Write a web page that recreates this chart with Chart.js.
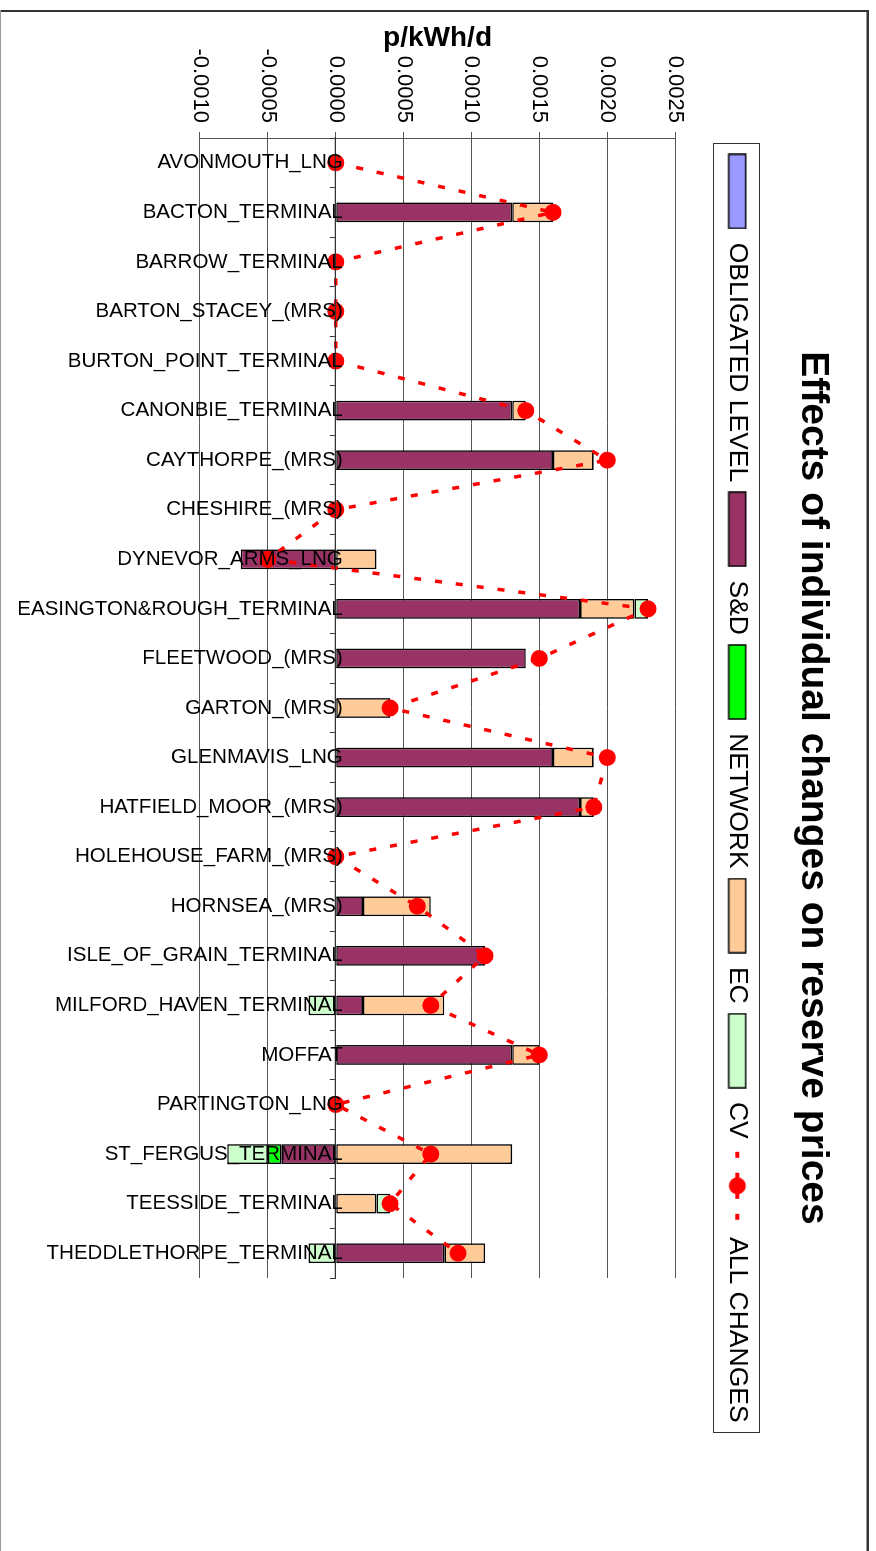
<!DOCTYPE html>
<html lang="en">
<head>
  <meta charset="UTF-8">
  <title>Effects of individual changes on reserve prices</title>
  <script src="https://cdn.jsdelivr.net/npm/chart.js"></script>
  <style>
    html, body { margin: 0; padding: 0; overflow: hidden; background: #fff; }
    /* the chart is drawn landscape and turned a quarter clockwise */
    #giro {
      position: absolute; left: 0; top: 0;
      width: 1566px; height: 876px;
      transform-origin: 0 0;
      transform: translateX(876px) rotate(90deg);
    }
  </style>
</head>
<body>

  <div id="giro">
    <canvas id="grafico" width="1566" height="876"></canvas>
  </div>

  <script>
    // Datos
    const categorias = [
      'AVONMOUTH_LNG', 'BACTON_TERMINAL', 'BARROW_TERMINAL', 'BARTON_STACEY_(MRS)',
      'BURTON_POINT_TERMINAL', 'CANONBIE_TERMINAL', 'CAYTHORPE_(MRS)', 'CHESHIRE_(MRS)',
      'DYNEVOR_ARMS_LNG', 'EASINGTON&ROUGH_TERMINAL', 'FLEETWOOD_(MRS)', 'GARTON_(MRS)',
      'GLENMAVIS_LNG', 'HATFIELD_MOOR_(MRS)', 'HOLEHOUSE_FARM_(MRS)', 'HORNSEA_(MRS)',
      'ISLE_OF_GRAIN_TERMINAL', 'MILFORD_HAVEN_TERMINAL', 'MOFFAT', 'PARTINGTON_LNG',
      'ST_FERGUS_TERMINAL', 'TEESSIDE_TERMINAL', 'THEDDLETHORPE_TERMINAL'
    ];

    const obligated = [0, 0, 0, 0, 0, 0, 0, 0, 0, 0, 0, 0, 0, 0, 0, 0, 0, 0, 0, 0, 0, 0, 0];
    const sd        = [0, 0.0013, 0, 0, 0, 0.0013, 0.0016, 0, -0.0007, 0.0018, 0.0014, 0, 0.0016, 0.0018, 0, 0.0002, 0.0011, 0.0002, 0.0013, 0, -0.0004, 0, 0.0008];
    const network   = [0, 0, 0, 0, 0, 0, 0, 0, 0, 0, 0, 0, 0, 0, 0, 0, 0, 0, 0, 0, -0.0001, 0, 0];
    const ec        = [0, 0.0003, 0, 0, 0, 0.0001, 0.0003, 0, 0.0003, 0.0004, 0, 0.0004, 0.0003, 0.0001, 0, 0.0005, 0, 0.0006, 0.0002, 0, 0.0013, 0.0003, 0.0003];
    const cv        = [0, 0, 0, 0, 0, 0, 0, 0, 0, 0.0001, 0, 0, 0, 0, 0, 0, 0, -0.0002, 0, 0, -0.0003, 0.0001, -0.0002];
    const allChanges = [0, 0.0016, 0, 0, 0, 0.0014, 0.0020, 0, -0.0005, 0.0023, 0.0015, 0.0004, 0.0020, 0.0019, 0, 0.0006, 0.0011, 0.0007, 0.0015, 0, 0.0007, 0.0004, 0.0009];

    const ejeMin = -0.001;
    const ejeMax = 0.0025;
    const ejePaso = 0.0005;

    Chart.defaults.font.family = '"Liberation Sans", Arial, sans-serif';
    Chart.defaults.color = '#000';

    // Claves de la leyenda (rectángulo o línea con punto)
    function clave(color, esLinea) {
      const c = document.createElement('canvas');
      c.width = 76; c.height = 20;
      const g = c.getContext('2d');
      if (esLinea) {
        g.fillStyle = '#FF0000';
        g.fillRect(4, 8, 6, 4);
        g.fillRect(66, 8, 6, 4);
        g.fillRect(25, 8, 26, 4);
        g.beginPath();
        g.arc(38, 10, 8.5, 0, Math.PI * 2);
        g.fill();
      } else {
        g.fillStyle = color;
        g.fillRect(1, 1.5, 74, 17);
        g.strokeStyle = '#000';
        g.lineWidth = 1.5;
        g.strokeRect(1, 1.5, 74, 17);
      }
      return c;
    }

    const colores = ['#9999FF', '#993366', '#00FF00', '#FFCC99', '#CCFFCC', '#FF0000'];
    const claves = colores.map((c, i) => clave(c, i === 5));

    function barra(label, data, color) {
      return {
        type: 'bar', label, data,
        backgroundColor: color,
        borderColor: '#000',
        borderWidth: 1.6,
        borderSkipped: false,
        categoryPercentage: 1,
        barPercentage: 0.4,
        xAxisID: 'x', yAxisID: 'y'
      };
    }

    // Marco del gráfico y borde de la leyenda
    const marco = {
      id: 'marco',
      afterDraw(chart) {
        const ctx = chart.ctx;
        ctx.save();
        ctx.fillStyle = '#333';
        ctx.fillRect(10, 7, 2, 869);
        ctx.fillRect(10, 7, 1556, 2.5);
        ctx.fillStyle = '#999';
        ctx.fillRect(10, 875, 1556, 1);

        const cajas = chart.legend.legendHitBoxes;
        if (cajas && cajas.length) {
          const izq = Math.min(...cajas.map(b => b.left)) - 10;
          const der = Math.max(...cajas.map(b => b.left + b.width)) + 10;
          const centro = cajas[0].top + cajas[0].height / 2;
          ctx.strokeStyle = '#333';
          ctx.lineWidth = 1;
          ctx.strokeRect(Math.round(izq) + 0.5, Math.round(centro - 23) + 0.5, Math.round(der - izq), 46);
        }
        ctx.restore();
      }
    };

    new Chart(document.getElementById('grafico').getContext('2d'), {
      type: 'bar',
      data: {
        labels: categorias,
        datasets: [
          barra('OBLIGATED LEVEL', obligated, colores[0]),
          barra('S&D', sd, colores[1]),
          barra('NETWORK', network, colores[2]),
          barra('EC', ec, colores[3]),
          barra('CV', cv, colores[4]),
          {
            type: 'line', label: 'ALL CHANGES', data: allChanges,
            order: -1,
            borderColor: '#FF0000', backgroundColor: '#FF0000',
            borderWidth: 3.5, borderDash: [7, 14],
            pointRadius: 8.5, pointHoverRadius: 8.5, pointBorderWidth: 0,
            tension: 0, fill: false,
            xAxisID: 'x', yAxisID: 'y'
          }
        ]
      },
      options: {
        responsive: false,
        animation: false,
        layout: { padding: { left: 10, top: 0, right: 0, bottom: 200 } },
        plugins: {
          tooltip: { enabled: false },
          title: {
            display: true,
            text: 'Effects of individual changes on reserve prices',
            font: { size: 39, weight: 'bold' },
            color: '#000',
            padding: { top: 40, bottom: 29.6 }
          },
          legend: {
            labels: {
              usePointStyle: true,
              pointStyleWidth: 76,
              boxHeight: 18,
              padding: 9,
              font: { size: 26.5 },
              color: '#000',
              generateLabels: chart => chart.data.datasets.map((ds, i) => ({
                text: ds.label,
                pointStyle: claves[i],
                datasetIndex: i,
                hidden: false,
                lineWidth: 0,
                fontColor: '#000'
              }))
            }
          }
        },
        scales: {
          x: {
            stacked: true,
            position: { y: 0 },
            grid: { drawOnChartArea: false, tickLength: 5, color: '#333', z: 1 },
            border: { color: '#333', width: 1.2, z: 1 },
            ticks: {
              z: 1,
              autoSkip: false, minRotation: 90, maxRotation: 90,
              padding: -12, color: '#000', font: { size: 20.5 }
            }
          },
          y: {
            stacked: true,
            position: 'left',
            min: ejeMin, max: ejeMax,
            ticks: {
              stepSize: ejePaso,
              padding: 9,
              color: '#000',
              font: { size: 22 },
              callback: v => Math.abs(v) < 1e-12 ? '0.0000' : Number(v).toFixed(4)
            },
            grid: { color: '#555', tickLength: 6 },
            border: { color: '#555' },
            title: {
              display: true, text: 'p/kWh/d', color: '#000',
              font: { size: 28, weight: 'bold' },
              padding: { top: 11, bottom: 0 }
            },
            afterFit: s => { s.width = 128; }
          },
          arriba: {
            type: 'linear', axis: 'x', position: 'top', display: true,
            grid: { display: false }, ticks: { display: false }, border: { display: false },
            afterFit: s => { s.height = 39; }
          },
          derecha: {
            type: 'linear', axis: 'y', position: 'right', display: true,
            grid: { display: false }, ticks: { display: false }, border: { display: false },
            afterFit: s => { s.width = 288; }
          }
        }
      },
      plugins: [marco]
    });
  </script>
</body>
</html>
